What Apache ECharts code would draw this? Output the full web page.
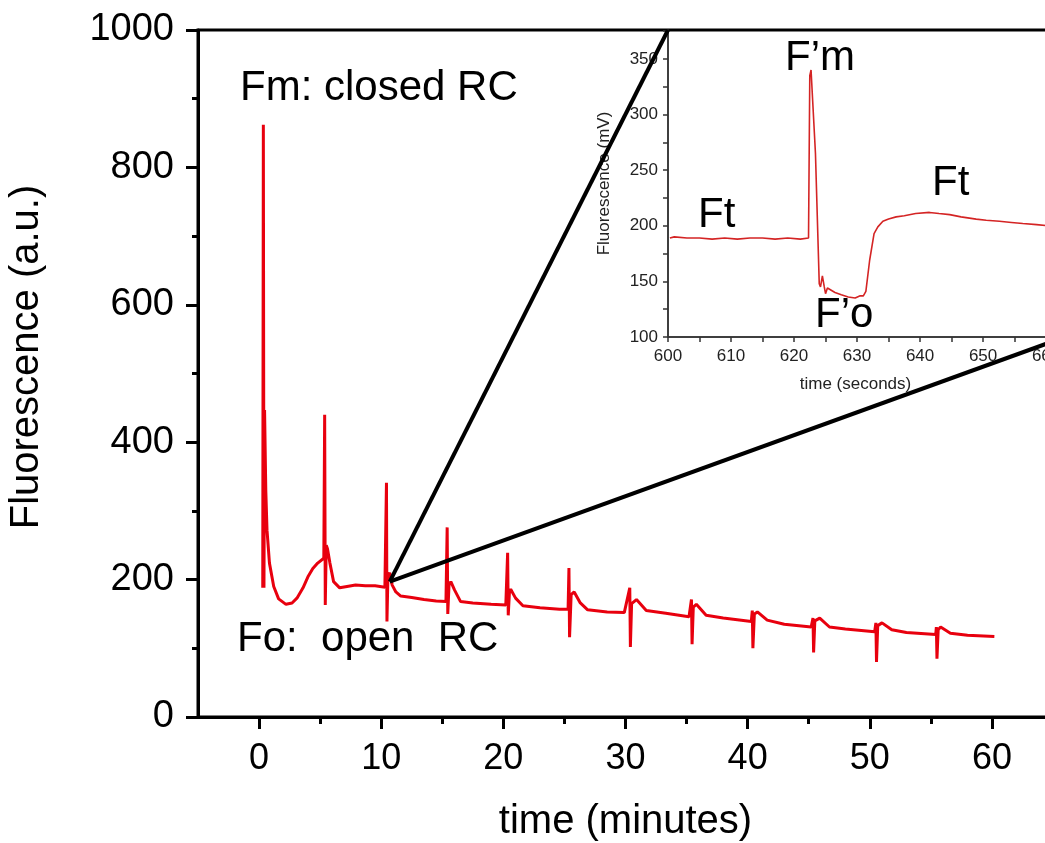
<!DOCTYPE html>
<html><head><meta charset="utf-8">
<script src="https://cdn.jsdelivr.net/npm/echarts@6/dist/echarts.min.js"></script>
<style>html,body{margin:0;padding:0;overflow:hidden;background:#fff;width:1045px;height:843px}#c{width:1100px;height:843px}</style>
</head><body><div id="c"></div><script>
// ---- main trace: time (minutes) / fluorescence (a.u.)
const mainTime = [0.30,0.35,0.40,0.45,0.55,0.65,0.85,1.2,1.6,2.2,2.7,3.1,3.6,4.0,4.4,4.8,5.3,5.37,5.42,5.5,5.6,5.8,6.1,6.6,7.2,7.9,8.7,9.5,10.3,10.43,10.47,10.55,10.7,10.9,11.2,11.6,12.5,13.5,14.5,15.3,15.4,15.45,15.55,15.7,16.0,16.5,17.5,19.0,20.2,20.35,20.4,20.5,20.6,21.0,21.6,23.0,24.6,25.3,25.37,25.42,25.55,25.8,26.3,26.9,28.5,29.9,30.35,30.4,30.5,30.9,31.7,33.3,35.2,35.4,35.45,35.55,35.8,36.6,38.0,40.3,40.38,40.43,40.55,40.8,41.6,43.0,45.2,45.35,45.4,45.5,45.9,46.7,48.0,50.4,50.5,50.55,50.65,51.0,51.8,53.0,55.4,55.45,55.5,55.6,55.8,56.6,58.0,60.2];
const mainValue = [188,862,188,447,330,272,224,190,172,164,166,173,188,204,216,224,231,440,163,250,245,224,197,188,190,192,191,191,189,341,139,205,210,192,182,176,174,171,169,168,276,150,192,197,185,168,166,164,163,239,148,182,186,173,162,159,157,157,217,116,178,182,166,156,153,152,188,102,165,171,155,151,146,171,106,160,164,148,144,139,155,100,150,153,141,135,131,144,94,140,144,131,128,124,137,80,133,137,127,123,120,131,85,127,131,122,119,117];
// ---- inset trace: time (seconds) / fluorescence (mV)
const insetTime = [600.3,601,603,605,607,609,611,613,615,617,619,621,622.3,622.5,622.7,623.0,623.4,624.0,624.2,624.5,624.6,624.8,625.0,625.3,626.5,627.5,628.6,629.7,630.5,631.0,631.4,632.0,632.7,633.3,634.1,635.0,636.2,637.5,639.3,641.5,643.0,644.7,646.5,648.9,650.5,652.6,654.5,656.3,658.5,660.3,663];
const insetValue = [189,190,189,189,188,189,188,189,189,188,189,188,189,335,340,339,265,148,145,155,156,145,139,144,140,138,136,135,137,137,141,169,193,199,204,206,208,209,211,212,211,210,208,206,205,204,203,202,201,200,199];
// ---- tick values
const mainXLabels = [0,10,20,30,40,50,60];
const mainXMinor = [5,15,25,35,45,55];
const mainYLabels = [0,200,400,600,800,1000];
const mainYMinor = [100,300,500,700,900];
const insetYLabels = [100,150,200,250,300,350];
const insetYTicks = [100,125,150,175,200,225,250,275,300,325,350,375];
const insetXTicks = [600,605,610,615,620,625,630,635,640,645,650,655,660];
const insetXLabels = [600,610,620,630,640,650,660];
// zoom origin on main trace (minutes, a.u.)
const zoomOrigin = [10.7, 197];

const FONT = 'Liberation Sans, Arial, sans-serif';
const chart = echarts.init(document.getElementById('c'), null, {renderer:'canvas'});

const mainAxisLine = {show:true, onZero:false, lineStyle:{color:'#000', width:3}};
const insetAxisLine = {show:true, onZero:false, lineStyle:{color:'#333', width:1.5}};
const plain = v => String(v);
function tickAxis(gridIndex, position, min, max, values, len, color, width){
  return {type:'value', gridIndex, position, offset:0, min, max,
    axisLine:{show:false, onZero:false}, splitLine:{show:false}, axisLabel:{show:false},
    axisTick:{show:true, inside:false, length:len, customValues:values, lineStyle:{color, width}}};
}

chart.setOption({
  animation:false,
  backgroundColor:'#fff',
  grid:[
    {left:198, top:30, width:855, height:687, containLabel:false, outerBoundsMode:'none',
     show:true, borderColor:'#000', borderWidth:3, backgroundColor:'transparent', z:1},
    {left:668, top:30, width:397, height:307, containLabel:false, outerBoundsMode:'none',
     show:true, borderColor:'#333', borderWidth:1.5, backgroundColor:'#fff', z:0}
  ],
  xAxis:[
    {type:'value', gridIndex:0, position:'bottom', min:-5, max:65,
     axisLine:mainAxisLine, splitLine:{show:false},
     axisTick:{show:false},
     axisLabel:{customValues:mainXLabels, margin:24, fontSize:36, color:'#000', fontFamily:FONT, formatter:plain},
     name:'time (minutes)', nameLocation:'middle', nameGap:85,
     nameTextStyle:{fontSize:40, color:'#000', fontFamily:FONT}},
    tickAxis(0, 'bottom', -5, 65, mainXMinor, 7, '#000', 3),
    tickAxis(0, 'bottom', -5, 65, mainXLabels, 12, '#000', 3),
    {type:'value', gridIndex:1, position:'bottom', min:600, max:663, z:1,
     axisLine:insetAxisLine, splitLine:{show:false},
     axisTick:{show:true, inside:false, length:5, customValues:insetXTicks, lineStyle:{color:'#333', width:1.5}},
     axisLabel:{customValues:insetXLabels, margin:11, fontSize:17, color:'#222', fontFamily:FONT, formatter:plain},
     name:'time (seconds)', nameLocation:'middle', nameGap:39,
     nameTextStyle:{fontSize:17, color:'#222', fontFamily:FONT, padding:[0,22,0,0]}}
  ],
  yAxis:[
    {type:'value', gridIndex:0, position:'left', min:0, max:1000, interval:200,
     axisLine:mainAxisLine, splitLine:{show:false},
     axisTick:{show:false},
     axisLabel:{customValues:mainYLabels, margin:24, fontSize:38, color:'#000', fontFamily:FONT, formatter:plain},
     name:'Fluorescence (a.u.)', nameLocation:'middle', nameGap:151,
     nameTextStyle:{fontSize:40, color:'#000', fontFamily:FONT, padding:[0,0,0,33]}},
    tickAxis(0, 'left', 0, 1000, mainYMinor, 6, '#000', 3),
    tickAxis(0, 'left', 0, 1000, mainYLabels, 12, '#000', 3),
    {type:'value', gridIndex:1, position:'left', min:100, max:376, z:1,
     axisLine:insetAxisLine, splitLine:{show:false},
     axisTick:{show:true, inside:false, length:5, customValues:insetYTicks, lineStyle:{color:'#333', width:1.5}},
     axisLabel:{customValues:insetYLabels, margin:10, fontSize:17, color:'#222', fontFamily:FONT, formatter:plain},
     name:'Fluorescence (mV)', nameLocation:'middle', nameGap:55,
     nameTextStyle:{fontSize:17, color:'#222', fontFamily:FONT}}
  ],
  series:[
    {type:'line', xAxisIndex:0, yAxisIndex:0, symbol:'none', clip:true,
     lineStyle:{color:'#e8000e', width:3}, z:3,
     data: mainTime.map((t,i)=>[t, mainValue[i]])},
    {type:'line', xAxisIndex:3, yAxisIndex:3, symbol:'none', clip:true,
     lineStyle:{color:'#d42424', width:1.6}, z:3,
     data: insetTime.map((t,i)=>[t, insetValue[i]])}
  ]
});

const o = chart.convertToPixel({seriesIndex:0}, zoomOrigin);
const tl = chart.convertToPixel({seriesIndex:1}, [600, 376]);
const br = chart.convertToPixel({seriesIndex:1}, [663, 100]);

function label(text, x, baseline, size){
  return {type:'text', z:20, style:{text:text, x:x, y:baseline - 0.35*size, fill:'#000',
    font: size + 'px ' + FONT, verticalAlign:'middle', align:'left'}};
}
chart.setOption({
  graphic:[
    {type:'line', z:10, shape:{x1:o[0], y1:o[1], x2:tl[0], y2:tl[1]}, style:{stroke:'#000', lineWidth:4}},
    {type:'line', z:10, shape:{x1:o[0], y1:o[1], x2:br[0], y2:br[1]}, style:{stroke:'#000', lineWidth:4}},
    label('Fm: closed RC', 240, 103, 42),
    label('Fo:  open  RC', 237, 654, 42),
    label('F\u2019m', 785, 73, 42),
    label('Ft', 698, 230, 42),
    label('Ft', 932, 198, 42),
    label('F\u2019o', 815, 330, 42)
  ]
});
</script></body></html>
